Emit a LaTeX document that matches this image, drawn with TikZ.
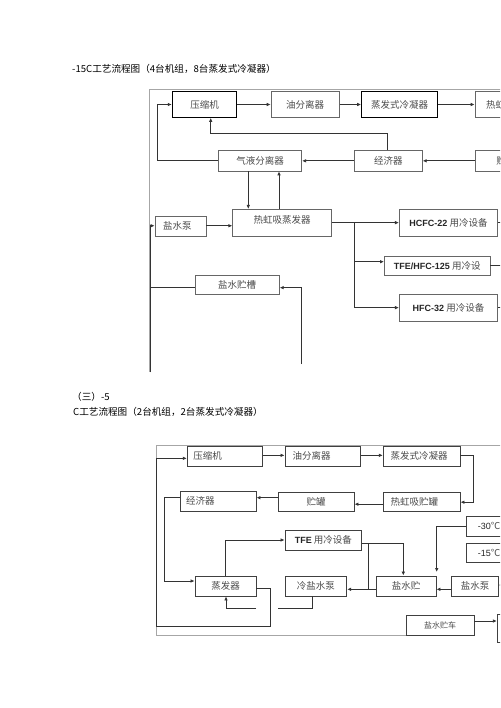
\documentclass[tikz,border=0pt]{standalone}
\usepackage{fontspec}
\setmainfont{Liberation Sans}
\newfontfamily\cjk{Noto Sans CJK SC}
\usetikzlibrary{arrows.meta,calc}
\begin{document}
\begin{tikzpicture}[x=1pt,y=-1pt,
  bx/.style={draw=black!60, line width=0.7pt, inner sep=0pt, font=\cjk\fontsize{9.5}{10}\selectfont, text=black!70},
  bxk/.style={bx, draw=black, line width=1.1pt},
  bxs/.style={bx, draw=black!75, line width=0.9pt},
  lbx/.style={align=left, inner xsep=#1},
  ln/.style={draw=black!80, line width=0.9pt},
  ar/.style={ln, -{Latex[length=4pt,width=3.6pt]}},
  fr/.style={draw=black!35, line width=0.7pt},
  ttl/.style={font=\cjk\fontsize{9.6}{10}\selectfont, text=black, inner sep=0pt},
  lat/.style={font=\bfseries\fontsize{9}{10}\selectfont}
]
\useasboundingbox (0,0) rectangle (500,708);
\fill[white] (0,0) rectangle (500,708);
\clip (0,0) rectangle (500,708);

% ---------- titles ----------
\node[ttl, anchor=west] (t1) at (72,69) {-15C工艺流程图（4台机组，8台蒸发式冷凝器）};
\node[ttl, anchor=west] (t2) at (72,397) {（三）-5};
\node[ttl, anchor=west] (t3) at (73,411.5) {C工艺流程图（2台机组，2台蒸发式冷凝器）};

% ---------- section 1 ----------
\draw[fr] (520,89) -- (149.5,89) -- (149.5,372);

\node[bxk, minimum width=64.4pt, minimum height=25.6pt] (a1) at (204.5,104.5) {压缩机};
\node[bx, minimum width=68.3pt, minimum height=25.6pt] (a2) at (305.2,104.5) {油分离器};
\node[bxk, minimum width=75.6pt, minimum height=25.6pt] (a3) at (399.5,104.5) {蒸发式冷凝器};
\node[bx, lbx=11pt, text width=48pt, minimum height=25.6pt] (a4) at (510,104.5) {热虹吸贮罐};

\node[bx, minimum width=83.4pt, minimum height=20.3pt] (b1) at (260,160.85) {气液分离器};
\node[bx, minimum width=68pt, minimum height=20.3pt] (b2) at (388.3,160.85) {经济器};
\node[bx, lbx=21pt, text width=28pt, minimum height=20.3pt] (b3) at (510.4,160.85) {贮罐};

\node[bx, lbx=8pt, text width=35pt, minimum height=19.3pt] (c1) at (180.5,226.35) {盐水泵};
\node[bx, minimum width=99pt, minimum height=26.7pt, text depth=6pt] (c2) at (282.2,222.65) {热虹吸蒸发器};

\node[bx, minimum width=98.4pt, minimum height=26.7pt] (d1) at (448.5,222.65) {{\fontspec{Liberation Sans}\bfseries\fontsize{9}{10}\selectfont\color{black!85}HCFC-22} 用冷设备};
\node[bx, minimum width=105.7pt, minimum height=19pt] (d2) at (437.2,265.5) {{\fontspec{Liberation Sans}\bfseries\fontsize{9}{10}\selectfont\color{black!85}TFE/HFC-125} 用冷设};
\node[bx, minimum width=98.4pt, minimum height=26.7pt] (d3) at (448.5,307.65) {{\fontspec{Liberation Sans}\bfseries\fontsize{9}{10}\selectfont\color{black!85}HFC-32} 用冷设备};

\node[bx, minimum width=84.3pt, minimum height=19.3pt] (e1) at (237.2,284.65) {盐水贮槽};

\draw[ar] (a1) -- (a2);
\draw[ar] (a2) -- (a3);
\draw[ar] (a3) -- (a4);
\draw[ar] (b1.west) -- ++(-60.6,0) |- (a1.west);
\draw[ar] ([xshift=-0.6pt]b2.north) -- ++(0,-16.4) -| ([xshift=6.2pt]a1.south);
\draw[ar] (b2) -- (b1);
\draw[ar] (b3) -- (b2);
\coordinate (p1) at ([xshift=-11.7pt]b1.south);
\coordinate (p2) at ([xshift=19pt]b1.south);
\draw[ar] (p1) -- (p1 |- c2.north);
\draw[ar] (p2 |- c2.north) -- (p2);

\coordinate (s1b) at (150.7,372);
\draw[ar] (s1b) |- ([yshift=0.6pt]c1.west);
\draw[ln] (s1b) |- ([yshift=-3pt]e1.west);
\draw[ar] ([yshift=0.6pt]c1.east) -- ([yshift=0.6pt]c1.east -| c2.west);
\coordinate (j1) at (354.3,222.65);
\draw[ar] (c2.east) -- (d1.west);
\draw[ln] (j1) -- (354.3,307.65);
\draw[ar] (j1) |- ([yshift=3.8pt]d2.west);
\draw[ar] (j1) |- (d3.west);
\coordinate (s1r) at (301,364);
\draw[ar] (s1r) |- ([yshift=-3pt]e1.east);
\draw[ln] (d1.east) -- ++(8,0);
\draw[ln] (d2.east) -- ++(12,0);
\draw[ln] (d3.east) -- ++(8,0);

% ---------- section 2 ----------
\draw[fr] (520,445) -- (156.7,445) -- (156.7,635) -- (406,635);

\node[bxs, lbx=6pt, text width=63.4pt, minimum height=19.3pt] (f1) at (225,456.35) {压缩机};
\node[bxs, lbx=7.7pt, text width=60.3pt, minimum height=19.3pt] (f2) at (322.85,456.35) {油分离器};
\node[bxs, lbx=7.4pt, text width=61.9pt, minimum height=19.3pt] (f3) at (421.65,456.35) {蒸发式冷凝器};

\node[bxs, lbx=7.4pt, text width=61.9pt, minimum height=19pt] (g1) at (421.65,502.2) {热虹吸贮罐};
\node[bxs, minimum width=75.7pt, minimum height=19pt] (g2) at (316.15,502.2) {贮罐};
\node[bxs, lbx=6pt, text width=64pt, minimum height=20.7pt] (g3) at (218,501.35) {经济器};

\node[bxs, minimum width=76.7pt, minimum height=20pt] (h1) at (323.35,540) {{\fontspec{Liberation Sans}\bfseries\fontsize{9}{10}\selectfont\color{black!85}TFE} 用冷设备};

\node[bxs, lbx=11pt, text width=41pt, minimum height=19.3pt] (i1) at (498.35,526.35) {{\fontspec{Liberation Sans}\fontsize{9}{10}\selectfont\color{black!85}-30}℃};
\node[bxs, lbx=11pt, text width=41pt, minimum height=19.3pt] (i2) at (498.35,553) {{\fontspec{Liberation Sans}\fontsize{9}{10}\selectfont\color{black!85}-15}℃};

\node[bxs, minimum width=61pt, minimum height=20pt] (j1n) at (225.5,586) {蒸发器};
\node[bxs, minimum width=61.7pt, minimum height=20pt] (j2n) at (315.85,586) {冷盐水泵};
\node[bxs, minimum width=60pt, minimum height=20pt] (j3n) at (406,586) {盐水贮};
\node[bxs, minimum width=46.6pt, minimum height=20pt] (j4n) at (475,586) {盐水泵};

\node[bxs, minimum width=68pt, minimum height=20pt, font=\cjk\fontsize{8}{9}\selectfont] (k1) at (440,625) {盐水贮车};
\node[bxs, minimum width=40pt, minimum height=28pt] (k2) at (517.3,628) {};

\coordinate (s2l) at (156.7,626.7);
\draw[ar] (s2l) |- ([yshift=-2pt]f1.west);
\draw[ln] ([yshift=-2.3pt]j1n.east) -- ++(14,0) |- (s2l);
\draw[ar] ([yshift=1pt]f1.east) -- ([yshift=1pt]f1.east -| f2.west);
\draw[ar] ([yshift=1pt]f2.east) -- ([yshift=1pt]f2.east -| f3.west);
\draw[ar] ([yshift=1pt]f3.east) -- ++(13.3,0) |- (g1.east);
\draw[ar] ([yshift=-2pt]g1.west) -- ([yshift=-2pt]g1.west -| g2.east);
\draw[ar] ([yshift=4.5pt]g2.west) -- ([yshift=4.5pt]g2.west -| g3.east);
\draw[ar] ([yshift=3.65pt]g3.west) -- ++(-15,0) |- ([yshift=5pt]j1n.west);
\draw[ar] (j1n.north) |- (h1.west);
\draw[ar] ([yshift=-3.3pt]h1.east) -| ([xshift=-2.7pt]j3n.north);
\coordinate (bj) at (368.3,543.3);
\draw[ln] (bj) -- ++(0,46);
\draw[ar] ([yshift=-3.3pt]j3n.west) -- ([yshift=-3.3pt]j3n.west -| j2n.east);
\draw[ar] ([yshift=-3.3pt]j4n.west) -- ([yshift=-3.3pt]j4n.west -| j3n.east);
\coordinate (t30e) at (436.7,572);
\draw[ar] (i1.west) -| (t30e);
\coordinate (ea) at (256,608.3);
\draw[ar] (ea) -| ([xshift=0.5pt]j1n.south);
\coordinate (eb) at (278.3,608.3);
\draw[ln] (eb) -| ([xshift=-3.15pt]j2n.south);
\coordinate (pr) at (506,585);
\draw[ar] (pr) -- (pr -| j4n.east);
\draw[ar] ([yshift=4pt]k1.east) -- ([yshift=4pt]k1.east -| k2.west);
\end{tikzpicture}
\end{document}
